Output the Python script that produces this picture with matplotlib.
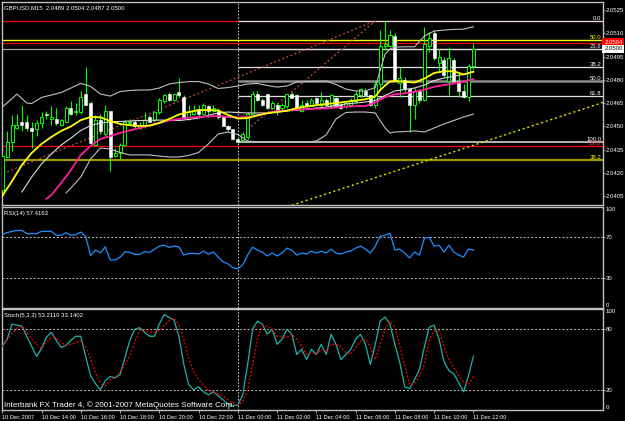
import matplotlib
matplotlib.use("Agg")
import matplotlib.pyplot as plt
import matplotlib.transforms as mtransforms
import numpy as np

plt.rcParams["font.family"] = ["Liberation Sans", "DejaVu Sans"]

# GBPUSD M15 candles, 10 Dec 2007 12:00 -> 11 Dec 2007 12:00
opens = [
    2.0409, 2.0430, 2.0440, 2.0449, 2.0453, 2.0453, 2.0449, 2.0448, 2.0452, 2.0458,
    2.0455, 2.0455, 2.0451, 2.0453, 2.0462, 2.0459, 2.0459, 2.0471, 2.0465, 2.0438,
    2.0454, 2.0445, 2.0460, 2.0431, 2.0433, 2.0438, 2.0452, 2.0453, 2.0449, 2.0451,
    2.0456, 2.0454, 2.0459, 2.0466, 2.0471, 2.0467, 2.0472, 2.0469, 2.0455, 2.0458,
    2.0461, 2.0458, 2.0463, 2.0460, 2.0460, 2.0456, 2.0450, 2.0448, 2.0442, 2.0441,
    2.0443, 2.0458, 2.0471, 2.0467, 2.0471, 2.0462, 2.0464, 2.0462, 2.0463, 2.0471,
    2.0470, 2.0460, 2.0465, 2.0463, 2.0468, 2.0464, 2.0467, 2.0464, 2.0468, 2.0464,
    2.0463, 2.0464, 2.0466, 2.0470, 2.0473, 2.0470, 2.0464, 2.0477, 2.0502, 2.0502,
    2.0508, 2.0478, 2.0480, 2.0474, 2.0464, 2.0473, 2.0467, 2.0502, 2.0510, 2.0491,
    2.0493, 2.0479, 2.0493, 2.0479, 2.0473, 2.0469, 2.0489,
]
highs = [
    2.0433, 2.0447, 2.0457, 2.0458, 2.0464, 2.0457, 2.0453, 2.0454, 2.0459, 2.0460,
    2.0463, 2.0462, 2.0455, 2.0463, 2.0466, 2.0465, 2.0473, 2.0488, 2.0466, 2.0457,
    2.0458, 2.0464, 2.0460, 2.0436, 2.0439, 2.0454, 2.0455, 2.0454, 2.0453, 2.0459,
    2.0457, 2.0460, 2.0468, 2.0471, 2.0472, 2.0471, 2.0481, 2.0470, 2.0464, 2.0464,
    2.0464, 2.0465, 2.0464, 2.0464, 2.0462, 2.0457, 2.0451, 2.0448, 2.0443, 2.0446,
    2.0459, 2.0473, 2.0473, 2.0468, 2.0471, 2.0466, 2.0465, 2.0465, 2.0471, 2.0472,
    2.0471, 2.0467, 2.0467, 2.0468, 2.0468, 2.0472, 2.0468, 2.0471, 2.0469, 2.0465,
    2.0466, 2.0468, 2.0473, 2.0475, 2.0475, 2.0470, 2.0479, 2.0512, 2.0518, 2.0512,
    2.0510, 2.0488, 2.0482, 2.0475, 2.0475, 2.0474, 2.0514, 2.0511, 2.0512, 2.0500,
    2.0495, 2.0501, 2.0494, 2.0485, 2.0477, 2.0490, 2.0504,
]
lows = [
    2.0408, 2.0430, 2.0434, 2.0448, 2.0447, 2.0447, 2.0436, 2.0444, 2.0449, 2.0455,
    2.0451, 2.0451, 2.0450, 2.0452, 2.0457, 2.0457, 2.0458, 2.0464, 2.0438, 2.0437,
    2.0445, 2.0444, 2.0421, 2.0430, 2.0429, 2.0438, 2.0451, 2.0449, 2.0448, 2.0449,
    2.0453, 2.0453, 2.0458, 2.0465, 2.0466, 2.0466, 2.0469, 2.0455, 2.0454, 2.0457,
    2.0456, 2.0457, 2.0456, 2.0459, 2.0455, 2.0450, 2.0447, 2.0441, 2.0439, 2.0440,
    2.0442, 2.0457, 2.0466, 2.0463, 2.0461, 2.0461, 2.0457, 2.0460, 2.0462, 2.0468,
    2.0461, 2.0459, 2.0462, 2.0463, 2.0464, 2.0462, 2.0463, 2.0462, 2.0462, 2.0461,
    2.0462, 2.0463, 2.0465, 2.0468, 2.0469, 2.0463, 2.0462, 2.0475, 2.0499, 2.0501,
    2.0479, 2.0469, 2.0472, 2.0446, 2.0455, 2.0465, 2.0466, 2.0498, 2.0493, 2.0485,
    2.0482, 2.0470, 2.0478, 2.0469, 2.0468, 2.0466, 2.0487,
]
closes = [
    2.0431, 2.0440, 2.0451, 2.0451, 2.0451, 2.0449, 2.0447, 2.0452, 2.0456, 2.0457,
    2.0456, 2.0452, 2.0454, 2.0462, 2.0458, 2.0460, 2.0469, 2.0464, 2.0439, 2.0454,
    2.0447, 2.0460, 2.0430, 2.0433, 2.0438, 2.0453, 2.0453, 2.0450, 2.0451, 2.0454,
    2.0453, 2.0459, 2.0467, 2.0470, 2.0467, 2.0471, 2.0470, 2.0456, 2.0459, 2.0460,
    2.0458, 2.0464, 2.0460, 2.0462, 2.0456, 2.0450, 2.0448, 2.0442, 2.0440, 2.0445,
    2.0458, 2.0471, 2.0467, 2.0464, 2.0462, 2.0465, 2.0460, 2.0464, 2.0471, 2.0468,
    2.0462, 2.0464, 2.0463, 2.0467, 2.0465, 2.0467, 2.0464, 2.0470, 2.0463, 2.0462,
    2.0465, 2.0467, 2.0471, 2.0474, 2.0470, 2.0464, 2.0477, 2.0502, 2.0503, 2.0509,
    2.0480, 2.0481, 2.0474, 2.0464, 2.0473, 2.0467, 2.0503, 2.0507, 2.0494, 2.0495,
    2.0483, 2.0494, 2.0479, 2.0473, 2.0469, 2.0489, 2.0500,
]

time_ticks = list(range(0, 97, 8))
time_labels = [
    "10 Dec 2007", "10 Dec 14:00", "10 Dec 16:00", "10 Dec 18:00", "10 Dec 20:00",
    "10 Dec 22:00", "11 Dec 00:00", "11 Dec 02:00", "11 Dec 04:00", "11 Dec 06:00",
    "11 Dec 08:00", "11 Dec 10:00", "11 Dec 12:00",
]
price_ticks = [2.0525, 2.0510, 2.0495, 2.0480, 2.0465, 2.0450, 2.0435, 2.0420, 2.0405]

# indicator lines (bar index, value)
fast_ma_bars = list(range(0, 77, 2)) + [77, 78, 79, 80] + list(range(82, 97, 2))
fast_ma = [
    2.04050, 2.04147, 2.04250, 2.04328, 2.04386, 2.04431, 2.04470, 2.04499, 2.04540, 2.04560,
    2.04558, 2.04534, 2.04515, 2.04507, 2.04502, 2.04504, 2.04521, 2.04547, 2.04576, 2.04592,
    2.04604, 2.04605, 2.04602, 2.04573, 2.04550, 2.04553, 2.04570, 2.04584, 2.04592, 2.04600,
    2.04617, 2.04628, 2.04636, 2.04644, 2.04650, 2.04658, 2.04666, 2.04674, 2.04692,
    2.04734, 2.04763, 2.04789, 2.04792,
    2.04788, 2.04782, 2.04808, 2.04844, 2.04855, 2.04855, 2.04834, 2.04853,
]
slow_ma_bars = [9] + list(range(10, 77, 2)) + [78] + list(range(80, 97, 2))
slow_ma = [
    2.04031,
    2.04057, 2.04134, 2.04218, 2.04315, 2.04373, 2.04418, 2.04437, 2.04457, 2.04473, 2.04489,
    2.04505, 2.04524, 2.04537, 2.04547, 2.04555, 2.04560, 2.04564, 2.04566, 2.04560, 2.04557,
    2.04560, 2.04572, 2.04586, 2.04599, 2.04602, 2.04607, 2.04610, 2.04613, 2.04615, 2.04621,
    2.04626, 2.04630, 2.04631, 2.04653,
    2.04689,
    2.04706, 2.04713, 2.04722, 2.04737, 2.04755, 2.04766, 2.04776, 2.04788, 2.04805,
]
bb_upper_bars = [0, 2, 3, 4, 5, 6] + list(range(8, 77, 2)) + [77, 78, 79, 80] + list(range(82, 97, 2))
bb_upper = [
    2.04624, 2.04679, 2.04708, 2.04679, 2.04650, 2.04647,
    2.04686, 2.04702, 2.04718, 2.04747, 2.04777, 2.04757, 2.04708, 2.04695, 2.04724, 2.04731,
    2.04734, 2.04734, 2.04747, 2.04773, 2.04782, 2.04788, 2.04789, 2.04773, 2.04744, 2.04750,
    2.04760, 2.04773, 2.04776, 2.04763, 2.04753, 2.04760, 2.04786, 2.04789, 2.04790, 2.04792,
    2.04770, 2.04740, 2.04728, 2.04728, 2.04750,
    2.04863, 2.04966, 2.04998, 2.05011,
    2.05013, 2.05013, 2.05082, 2.05115, 2.05121, 2.05125, 2.05127, 2.05142,
]
bb_lower_bars = [13, 14] + list(range(16, 77, 2)) + [77, 78, 79, 80] + list(range(82, 97, 2))
bb_lower = [
    2.04070, 2.04102,
    2.04173, 2.04289, 2.04360, 2.04353, 2.04331, 2.04315, 2.04315, 2.04315, 2.04308, 2.04302,
    2.04302, 2.04312, 2.04331, 2.04386, 2.04450, 2.04463, 2.04447, 2.04405, 2.04399, 2.04399,
    2.04399, 2.04399, 2.04399, 2.04399, 2.04405, 2.04444, 2.04547, 2.04589, 2.04592, 2.04592,
    2.04586,
    2.04537, 2.04489, 2.04457, 2.04463,
    2.04466, 2.04470, 2.04463, 2.04489, 2.04515, 2.04537, 2.04560, 2.04579,
]
bb_mid_bars = list(range(4, 77, 2)) + [78] + list(range(80, 97, 2))
bb_mid = [
    2.04076, 2.04173, 2.04257, 2.04321, 2.04379, 2.04424, 2.04473, 2.04505, 2.04521, 2.04528,
    2.04531, 2.04534, 2.04537, 2.04539, 2.04540, 2.04539, 2.04537, 2.04544, 2.04553, 2.04571,
    2.04586, 2.04592, 2.04589, 2.04586, 2.04586, 2.04586, 2.04592, 2.04599, 2.04603, 2.04611,
    2.04618, 2.04624, 2.04634, 2.04644, 2.04650, 2.04657, 2.04666,
    2.04699,
    2.04728, 2.04737, 2.04747, 2.04766, 2.04795, 2.04811, 2.04822, 2.04835, 2.04850,
]

rsi = [
    72.9, 74.6, 75.9, 76.8, 76.8, 73.6, 73.6, 73.6, 75.9, 75.9,
    75.9, 72.0, 72.0, 74.6, 72.0, 72.6, 75.2, 71.0, 51.8, 57.3,
    54.7, 60.5, 47.6, 47.6, 50.2, 55.7, 55.1, 53.1, 53.1, 55.7,
    55.1, 58.0, 61.2, 62.2, 60.0, 61.2, 60.5, 52.4, 54.1, 54.1,
    53.4, 56.3, 53.4, 55.4, 50.5, 45.6, 43.7, 39.8, 38.8, 42.7,
    52.4, 60.2, 57.3, 55.4, 51.5, 54.4, 51.5, 54.4, 59.3, 57.3,
    52.4, 54.4, 53.4, 56.3, 54.4, 56.3, 54.4, 58.3, 54.4, 53.4,
    55.4, 56.3, 59.3, 61.2, 58.3, 54.4, 61.2, 71.0, 72.0, 73.9,
    57.3, 58.3, 54.4, 49.5, 55.4, 52.4, 69.0, 70.0, 61.2, 62.2,
    55.4, 62.2, 55.4, 52.4, 50.5, 58.3, 57.4163,
]
stoch_k = [
    63, 70, 85, 84, 83, 73, 63, 53, 61, 72,
    77, 69, 62, 64, 69, 73, 73, 53, 34, 26,
    20, 29, 33, 32, 35, 52, 69, 80, 81.5, 77,
    73, 73, 85, 94.5, 91.5, 89, 73, 45, 25, 20,
    23, 18, 15, 18, 14, 10, 6, 4, 5, 15,
    45, 80, 88, 85, 75, 80, 65, 70, 80, 75,
    55, 60, 50, 60, 55, 65, 55, 75, 65, 50,
    55, 60, 70, 75, 65, 45, 65, 88, 92, 85,
    65, 47, 23, 21, 30, 40, 62, 82, 84, 70,
    48, 39, 36, 27, 18, 34, 53.2110,
]
stoch_d = [
    63, 70, 76, 81, 83, 77, 70, 65, 61, 67,
    72, 71, 67, 64, 65, 67, 68, 63, 50, 37,
    26, 24, 30, 32, 38, 44, 54, 67, 79, 79,
    77, 77, 78.5, 84, 89, 91, 84, 70, 50, 38,
    30, 25, 19, 17, 16, 14, 10, 7, 5, 8,
    20, 45, 70, 84, 83, 80, 73, 72, 72, 75,
    70, 63, 55, 57, 55, 60, 58, 65, 65, 63,
    57, 55, 62, 68, 70, 62, 50, 65, 80, 88,
    82, 63, 44, 25, 26, 34, 45, 70, 78, 78,
    63, 50, 42, 34, 28, 25, 33.1402,
]

# drawn objects
fib_high, fib_low = 2.0518, 2.0440
fib_ratios = [0.0, 23.6, 38.2, 50.0, 61.8, 100.0]
fib_start_bar = 48
yellow_fib_levels = [2.0506, 2.0428]
yellow_fib_labels = ["50.0", "38.2"]
red_levels = [2.0518, 2.0504, 2.0437]
bid = 2.0500
trend_a = ([-1, 76], [2.0418, 2.0518])
trend_b = ([50, 76], [2.0448, 2.0518])
trend_yellow = ([59, 123], [2.0399, 2.0466])

W, H = 625, 421
LEFT, RIGHT = 2, 603
FS = 4.3
FRAME = "#c0c0c0"
GREEN = "#00ff00"
XMAX = 122.4

fig = plt.figure(figsize=(W / 100, H / 100), dpi=100, facecolor="black")


def add_panel(top_px, bottom_px):
    ax = fig.add_axes([LEFT / W, 1 - bottom_px / H, (RIGHT - LEFT) / W, (bottom_px - top_px) / H])
    ax.set_facecolor("black")
    for s in ax.spines.values():
        s.set_color(FRAME)
        s.set_linewidth(1.0)
    ax.set_xlim(-0.05, XMAX)
    ax.yaxis.tick_right()
    ax.tick_params(axis="y", colors=FRAME, labelcolor="white", labelsize=FS,
                   length=1.5, width=0.6, pad=0.6)
    ax.tick_params(axis="x", bottom=False, labelbottom=False)
    ax.axvline(48, color=FRAME, lw=0.8, ls=(0, (1.5, 1.5)), zorder=1)
    return ax


# ---- main price panel ----
ax = add_panel(2, 205)
ax.set_ylim(2.03992, 2.05302)
ax.set_yticks(price_ticks)
ax.set_yticklabels([f"{p:.4f}" for p in price_ticks])

for lvl in red_levels:
    ax.axhline(lvl, color="#ff0000", lw=0.9, zorder=1)
ax.axhline(bid, color="#a0a0a0", lw=0.9, zorder=1)
ax.axhline(yellow_fib_levels[0], color="#ffff00", lw=1.0, zorder=1)
ax.axhline(yellow_fib_levels[1], color="#9a9a00", lw=1.6, zorder=1)

fib_levels = [fib_high - r / 100 * (fib_high - fib_low) for r in fib_ratios]
for r, lvl in zip(fib_ratios, fib_levels):
    if r == 50.0:
        col, lw = "#8c8c8c", 1.8
    elif r == 100.0:
        col, lw = "#b4b4b4", 1.4
    else:
        col, lw = "#e0e0e0", 0.9
    ax.hlines(lvl, fib_start_bar, XMAX, colors=col, lw=lw, zorder=1)
    ax.text(XMAX - 0.3, lvl, f"{r:.1f}", color="white", fontsize=FS,
            ha="right", va="bottom", zorder=6)
for lvl, lab in zip(yellow_fib_levels, yellow_fib_labels):
    ax.text(XMAX - 0.3, lvl, lab, color="#ffff00", fontsize=FS, ha="right", va="bottom", zorder=6)
ax.text(XMAX - 0.6, red_levels[2], "23.6", color="#ff4040", fontsize=FS,
        ha="right", va="bottom", zorder=5)

ax.plot(*trend_a, color="#d0503a", lw=0.9, ls=(0, (1.5, 2)), zorder=2)
ax.plot(*trend_b, color="#d0503a", lw=0.9, ls=(0, (1.5, 2)), zorder=2)
ax.plot(*trend_yellow, color="#e6e600", lw=1.0, ls=(0, (1.5, 2)), zorder=2)

# candles
x = np.arange(len(closes))
o, h, l, c = (np.array(v) for v in (opens, highs, lows, closes))
up = c >= o
body_lo = np.minimum(o, c)
body_h = np.maximum(np.abs(c - o), 0.00002)
ax.vlines(x, l, h, color=GREEN, lw=0.8, zorder=3)
ax.bar(x[up], body_h[up], bottom=body_lo[up], width=0.62, color="black",
       edgecolor=GREEN, linewidth=0.7, zorder=4)
ax.bar(x[~up], body_h[~up], bottom=body_lo[~up], width=0.62, color="white",
       edgecolor="white", linewidth=0.4, zorder=4)

# bollinger bands + moving averages
ax.plot(bb_upper_bars, bb_upper, color="#c0c0c0", lw=0.8, zorder=5)
ax.plot(bb_lower_bars, bb_lower, color="#c0c0c0", lw=0.8, zorder=5)
ax.plot(bb_mid_bars, bb_mid, color="#dcdcdc", lw=0.8, zorder=5)
ax.plot(slow_ma_bars, slow_ma, color="#ff1e9e", lw=1.3, zorder=6)
ax.plot(fast_ma_bars, fast_ma, color="#ffff00", lw=1.3, zorder=6)

ax.text(0.004, 0.985, "GBPUSD,M15  2.0489 2.0504 2.0487 2.0500", transform=ax.transAxes,
        color="white", fontsize=FS, va="top", ha="left")

trans = mtransforms.blended_transform_factory(ax.transAxes, ax.transData)
ax.text(1.002, red_levels[1], f"{red_levels[1]:.4f}", transform=trans, color="white",
        fontsize=FS, va="center", ha="left", clip_on=False, zorder=10,
        bbox=dict(boxstyle="square,pad=0.3", fc="#ff0000", ec="none"))
ax.text(1.002, bid, f"{bid:.4f}", transform=trans, color="black",
        fontsize=FS, va="center", ha="left", clip_on=False, zorder=10,
        bbox=dict(boxstyle="square,pad=0.3", fc="white", ec="none"))

# ---- RSI panel ----
rax = add_panel(207, 308)
rax.set_ylim(0, 100)
rax.set_yticks([70, 30])
rax.set_yticklabels(["70", "30"])
for lvl in (70, 30):
    rax.axhline(lvl, color=FRAME, lw=0.7, ls=(0, (2, 2)), zorder=1)
rax.plot(x, rsi, color="#1e90ff", lw=0.9, zorder=3)
rtrans = mtransforms.blended_transform_factory(rax.transAxes, rax.transData)
rax.text(1.004, 100, "100", transform=rtrans, color="white", fontsize=FS, va="top", clip_on=False)
rax.text(1.004, 0, "0", transform=rtrans, color="white", fontsize=FS, va="bottom", clip_on=False)
rax.text(0.004, 0.96, f"RSI(14) {rsi[-1]:.4f}",
         transform=rax.transAxes, color="white", fontsize=FS, va="top")

# ---- Stochastic panel ----
sax = add_panel(309, 410)
sax.set_ylim(0, 100)
sax.set_yticks([80, 20])
sax.set_yticklabels(["80", "20"])
for lvl in (80, 20):
    sax.axhline(lvl, color=FRAME, lw=0.7, ls=(0, (2, 2)), zorder=1)
sax.plot(x, stoch_k, color="#20b2aa", lw=0.9, zorder=3)
sax.plot(x, stoch_d, color="#ff0000", lw=0.9, ls=(0, (1.5, 1.5)), zorder=3)
strans = mtransforms.blended_transform_factory(sax.transAxes, sax.transData)
sax.text(1.004, 100, "100", transform=strans, color="white", fontsize=FS, va="top", clip_on=False)
sax.text(1.004, 0, "0", transform=strans, color="white", fontsize=FS, va="bottom", clip_on=False)
sax.text(0.004, 0.96, f"Stoch(5,3,3) {stoch_k[-1]:.4f} {stoch_d[-1]:.4f}", transform=sax.transAxes,
         color="white", fontsize=FS, va="top")
sax.text(0.003, 0.012, "Interbank FX Trader 4, \u00a9 2001-2007 MetaQuotes Software Corp.",
         transform=sax.transAxes, color="white", fontsize=5.8, va="bottom", ha="left", zorder=8)

sax.tick_params(axis="x", bottom=True, labelbottom=True, colors=FRAME, labelcolor="white",
                labelsize=4.1, length=2.5, width=0.6, pad=1.0)
sax.set_xticks(time_ticks)
sax.set_xticklabels(time_labels, ha="left")

fig.savefig("out.png", dpi=100, facecolor="black")
